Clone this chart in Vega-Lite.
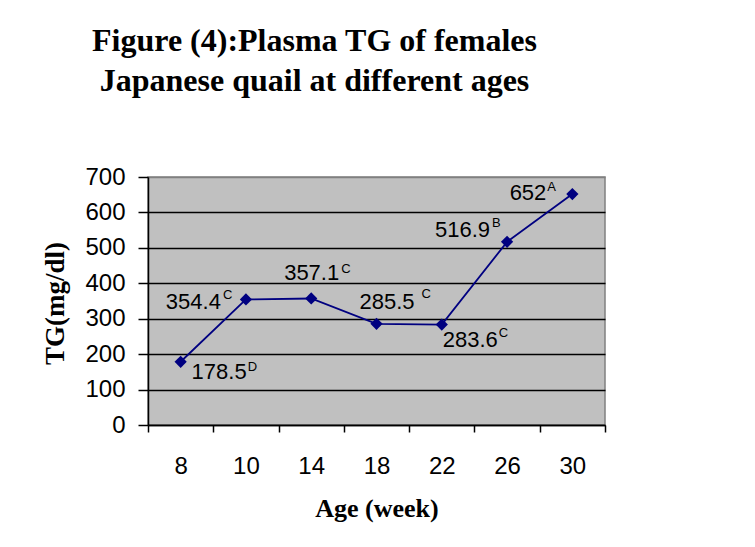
{
  "$schema": "https://vega.github.io/schema/vega-lite/v6.json",
  "width": 457,
  "height": 248,
  "autosize": {"type": "none"},
  "padding": {"left": 148, "top": 177, "right": 150, "bottom": 122},
  "background": "white",
  "title": {
    "text": ["Figure (4):Plasma TG of females", " Japanese quail at different ages"],
    "font": "Liberation Serif",
    "fontWeight": "bold",
    "fontSize": 32,
    "color": "black",
    "anchor": "middle",
    "dx": -62,
    "baseline": "alphabetic",
    "offset": 42,
    "lineHeight": 40
  },
  "config": {
    "view": {"fill": "#C0C0C0", "stroke": "#808080", "strokeWidth": 1.5},
    "text": {"font": "Liberation Sans", "color": "black"}
  },
  "data": {
    "values": [
      {"age": 8, "tg": 178.5, "label": "178.5", "letter": "D"},
      {"age": 10, "tg": 354.4, "label": "354.4", "letter": "C"},
      {"age": 14, "tg": 357.1, "label": "357.1", "letter": "C"},
      {"age": 18, "tg": 285.5, "label": "285.5", "letter": "C"},
      {"age": 22, "tg": 283.6, "label": "283.6", "letter": "C"},
      {"age": 26, "tg": 516.9, "label": "516.9", "letter": "B"},
      {"age": 30, "tg": 652, "label": "652", "letter": "A"}
    ]
  },
  "encoding": {
    "x": {
      "field": "age",
      "type": "ordinal",
      "scale": {"type": "band", "paddingInner": 0, "paddingOuter": 0},
      "axis": {
        "title": "Age (week)",
        "tickBand": "extent",
        "labelAngle": 0,
        "tickSize": 7,
        "tickWidth": 1.5,
        "tickColor": "black",
        "domainColor": "black",
        "domainWidth": 1.5,
        "labelColor": "black",
        "labelFont": "Liberation Sans",
        "labelFontSize": 24,
        "labelBaseline": "alphabetic",
        "labelPadding": 41,
        "titleColor": "black",
        "titleFont": "Liberation Serif",
        "titleFontWeight": "bold",
        "titleFontSize": 26,
        "titleBaseline": "alphabetic",
        "titleY": 91,
        "grid": false
      }
    },
    "y": {
      "field": "tg",
      "type": "quantitative",
      "scale": {"domain": [0, 700], "nice": false, "zero": true},
      "axis": {
        "title": "TG(mg/dl)",
        "values": [0, 100, 200, 300, 400, 500, 600, 700],
        "grid": true,
        "gridColor": {"condition": {"test": "datum.value == 700", "value": "#808080"}, "value": "black"},
        "gridWidth": 1.6,
        "tickSize": 10,
        "tickWidth": 1.5,
        "tickColor": "black",
        "domainColor": "black",
        "domainWidth": 1.5,
        "labelColor": "black",
        "labelFont": "Liberation Sans",
        "labelFontSize": 24,
        "labelPadding": 13,
        "titleColor": "black",
        "titleFont": "Liberation Serif",
        "titleFontWeight": "bold",
        "titleFontSize": 27,
        "titleBaseline": "middle",
        "titleX": -93,
        "titleY": 126
      }
    }
  },
  "layer": [
    {"mark": {"type": "line", "color": "#000080", "strokeWidth": 1.8}},
    {"mark": {"type": "point", "shape": "diamond", "filled": true, "color": "#000080", "size": 150, "opacity": 1}},
    {"transform": [{"filter": "datum.age == 8"}], "mark": {"type": "text", "fontSize": 22, "align": "right", "baseline": "alphabetic", "dx": 66, "dy": 17}, "encoding": {"text": {"field": "label"}}},
    {"transform": [{"filter": "datum.age == 8"}], "mark": {"type": "text", "fontSize": 13, "align": "left", "baseline": "alphabetic", "dx": 67, "dy": 9}, "encoding": {"text": {"field": "letter"}}},
    {"transform": [{"filter": "datum.age == 10"}], "mark": {"type": "text", "fontSize": 22, "align": "right", "baseline": "alphabetic", "dx": -25, "dy": 10}, "encoding": {"text": {"field": "label"}}},
    {"transform": [{"filter": "datum.age == 10"}], "mark": {"type": "text", "fontSize": 13, "align": "left", "baseline": "alphabetic", "dx": -23, "dy": 0}, "encoding": {"text": {"field": "letter"}}},
    {"transform": [{"filter": "datum.age == 14"}], "mark": {"type": "text", "fontSize": 22, "align": "right", "baseline": "alphabetic", "dx": 28, "dy": -18}, "encoding": {"text": {"field": "label"}}},
    {"transform": [{"filter": "datum.age == 14"}], "mark": {"type": "text", "fontSize": 13, "align": "left", "baseline": "alphabetic", "dx": 30, "dy": -25}, "encoding": {"text": {"field": "letter"}}},
    {"transform": [{"filter": "datum.age == 18"}], "mark": {"type": "text", "fontSize": 22, "align": "right", "baseline": "alphabetic", "dx": 38, "dy": -15}, "encoding": {"text": {"field": "label"}}},
    {"transform": [{"filter": "datum.age == 18"}], "mark": {"type": "text", "fontSize": 13, "align": "left", "baseline": "alphabetic", "dx": 45, "dy": -26}, "encoding": {"text": {"field": "letter"}}},
    {"transform": [{"filter": "datum.age == 22"}], "mark": {"type": "text", "fontSize": 22, "align": "right", "baseline": "alphabetic", "dx": 56, "dy": 22}, "encoding": {"text": {"field": "label"}}},
    {"transform": [{"filter": "datum.age == 22"}], "mark": {"type": "text", "fontSize": 13, "align": "left", "baseline": "alphabetic", "dx": 57, "dy": 12}, "encoding": {"text": {"field": "letter"}}},
    {"transform": [{"filter": "datum.age == 26"}], "mark": {"type": "text", "fontSize": 22, "align": "right", "baseline": "alphabetic", "dx": -17, "dy": -5}, "encoding": {"text": {"field": "label"}}},
    {"transform": [{"filter": "datum.age == 26"}], "mark": {"type": "text", "fontSize": 13, "align": "left", "baseline": "alphabetic", "dx": -15, "dy": -15}, "encoding": {"text": {"field": "letter"}}},
    {"transform": [{"filter": "datum.age == 30"}], "mark": {"type": "text", "fontSize": 22, "align": "right", "baseline": "alphabetic", "dx": -26, "dy": 6}, "encoding": {"text": {"field": "label"}}},
    {"transform": [{"filter": "datum.age == 30"}], "mark": {"type": "text", "fontSize": 13, "align": "left", "baseline": "alphabetic", "dx": -25, "dy": -3}, "encoding": {"text": {"field": "letter"}}}
  ]
}
